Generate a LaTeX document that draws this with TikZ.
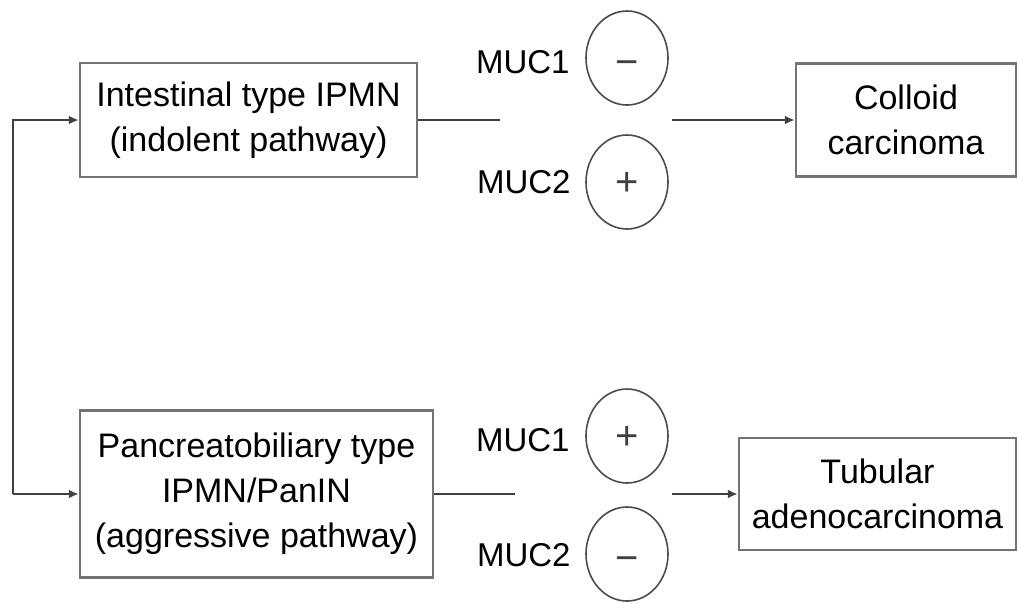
\documentclass[tikz,border=0pt]{standalone}
\usepackage{fontspec}
\setmainfont{Liberation Sans}
\usetikzlibrary{arrows.meta,shapes.geometric}

\tikzset{
  stage/.style={draw=black!55,line width=1.25pt,fill=white,inner sep=0pt,
    align=center,font=\fontsize{17}{22.5}\selectfont},
  marker/.style={ellipse,draw=black!70,line width=0.8pt,inner sep=0pt,
    minimum width=41pt,minimum height=47pt},
  sign/.style={anchor=base,inner sep=0pt,text=black!75,
    font=\fontsize{20}{20}\selectfont},
  muclabel/.style={anchor=east,inner sep=0pt,font=\fontsize{16.5}{20}\selectfont},
  link/.style={draw=black!75,line width=1pt},
  flow/.style={link,-{Latex[length=5pt,width=4.5pt]}}
}

\begin{document}
\begin{tikzpicture}[x=0.5pt,y=-0.5pt]
\useasboundingbox (0,0) rectangle (1018,602);

% pathways
\node[stage,minimum width=168.5pt,minimum height=57pt] (intest) at (248.5,120)
  {Intestinal type IPMN\\(indolent pathway)};
\node[stage,minimum width=176.5pt,minimum height=83.5pt] (panc) at (256.5,494)
  {Pancreatobiliary type\\IPMN/PanIN\\(aggressive pathway)};

% outcomes
\node[stage,minimum width=110pt,minimum height=56.5pt] (colloid) at (906,120)
  {Colloid\\carcinoma};
\node[stage,minimum width=138.5pt,minimum height=56pt] (tubular) at (877.5,494)
  {Tubular\\adenocarcinoma};

% mucin expression
\node[marker] (mucAtop) at (627,58) {};
\node[marker] (mucBtop) at (627,182) {};
\node[marker] (mucAbot) at (627,436) {};
\node[marker] (mucBbot) at (627,554) {};

\node[sign] (sgnAtop) at ([yshift=-8.5pt]mucAtop.center) {−};
\node[sign] (sgnBtop) at ([yshift=-6.5pt]mucBtop.center) {+};
\node[sign] (sgnAbot) at ([yshift=-6.5pt]mucAbot.center) {+};
\node[sign] (sgnBbot) at ([yshift=-8.5pt]mucBbot.center) {−};

\node[muclabel] (lblAtop) at (570,62) {MUC1};
\node[muclabel] (lblBtop) at (571,182) {MUC2};
\node[muclabel] (lblAbot) at (570,440) {MUC1};
\node[muclabel] (lblBbot) at (571,555) {MUC2};

% connectors
\coordinate (forktop) at (13,120);
\coordinate (forkbot) at (13,494);
\draw[flow] (forkbot) -- (forktop) -- (intest.west);
\draw[flow] (forkbot) -- (panc.west);

\coordinate (itail) at (500,120);
\coordinate (ihead) at (672,120);
\draw[link] (intest.east) -- (itail);
\draw[flow] (ihead) -- (colloid.west);

\coordinate (ptail) at (515,494);
\coordinate (phead) at (672,494);
\draw[link] (panc.east) -- (ptail);
\draw[flow] (phead) -- (tubular.west);
\end{tikzpicture}
\end{document}
